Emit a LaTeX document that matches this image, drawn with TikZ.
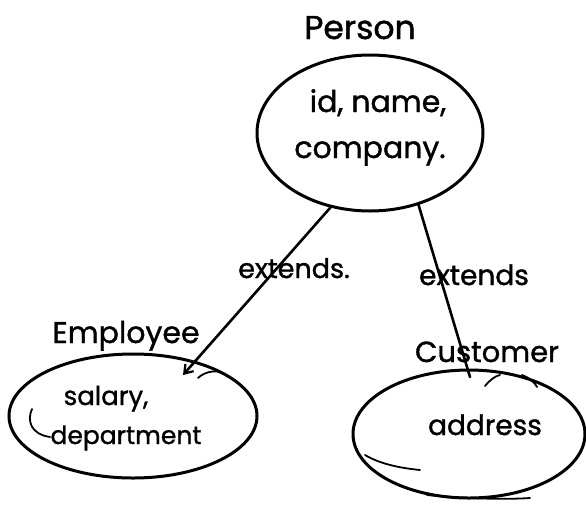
\documentclass[tikz,border=0pt]{standalone}
\usepackage{fontspec}
\setmainfont{Poppins}[FakeBold=1.2]
\usetikzlibrary{shapes.geometric,arrows.meta}
\newcommand\hfsz[1]{\fontsize{#1}{#1}\selectfont}
\tikzset{
  entity/.style={draw=black, ellipse, line width=3pt, inner sep=0pt},
  txt/.style={inner sep=0pt, anchor=base, text=black},
  conn/.style={draw=black, line width=2.6pt, line cap=round},
  scrib/.style={draw=black, line width=1.8pt, line cap=round},
}
\begin{document}
\begin{tikzpicture}[x=1pt,y=-1pt]
\useasboundingbox (0,0) rectangle (586,504);
\fill[white] (0,0) rectangle (586,504);
% entities
\node[entity, minimum width=226pt, minimum height=156pt] (person) at (370,133) {};
\node[entity, minimum width=248pt, minimum height=124pt] (employee) at (133,416) {};
\node[entity, minimum width=232pt, minimum height=128pt] (customer) at (469,434) {};
% titles
\node[txt, font=\hfsz{33}] (tperson) at (360,39) {Person};
\node[txt, font=\hfsz{30}] (temployee) at (126,343) {Employee};
\node[txt, font=\hfsz{29}] (tcustomer) at (487,362) {Customer};
% attributes
\node[txt, font=\hfsz{30}] (a1) at (378,112) {id, name,};
\node[txt, font=\hfsz{30}] (a2) at (370,158) {company.};
\node[txt, font=\hfsz{26}] (a3) at (106,405) {salary,};
\node[txt, font=\hfsz{25}] (a4) at (126,444) {department};
\node[txt, font=\hfsz{28}] (a5) at (485,435) {address};
% connector labels
\node[txt, font=\hfsz{27}] (l1) at (294,278) {extends.};
\node[txt, font=\hfsz{28}] (l2) at (474,285) {extends};
% connectors
\coordinate (emptip) at (183,375);
\coordinate (custend) at (470,377);
\draw[conn, -{Straight Barb[length=8pt,width=11pt,line width=2.2pt]}] (person.-118.6) -- (emptip);
\draw[conn] (person.-56) -- (custend);
% hand-drawn extra strokes
\draw[scrib] (32,409) .. controls (27,420) and (30,434) .. (50,437);
\draw[scrib] (198,378) .. controls (205,371) and (220,368) .. (228,377);
\draw[scrib] (365,455) .. controls (380,464) and (400,468) .. (420,470);
\draw[scrib] (427,495) .. controls (460,498) and (500,500) .. (530,498);
\draw[scrib] (485,386) .. controls (490,380) and (495,376) .. (500,375);
\draw[scrib] (522,375) .. controls (530,378) and (535,383) .. (537,387);
\end{tikzpicture}
\end{document}
